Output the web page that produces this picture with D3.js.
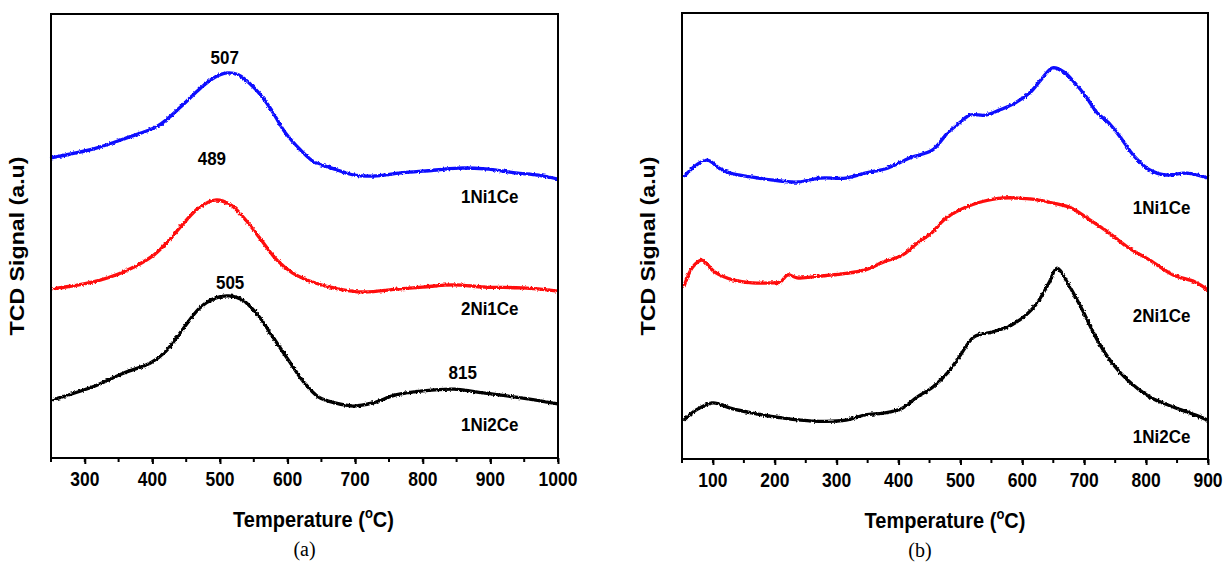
<!DOCTYPE html>
<html>
<head>
<meta charset="utf-8">
<script src="https://cdn.jsdelivr.net/npm/d3@7"></script>
<style>
  body { margin: 0; background: #fff; }
  text { font-family: "Liberation Sans", Arial, sans-serif; font-weight: bold; }
</style>
</head>
<body>
<div id="app"></div>
<script>
// panel (a): temperature (C) and TCD signal (a.u.)
const tempA1Ni1Ce = [250,317,362,408,442,471,493,508,527,551,573,596,619,639,665,699,727,767,801,853,893,937,971,1000]
const sigA1Ni1Ce  = [67.6,69.8,72.1,74.8,79.1,83.3,85.8,86.7,86.3,83.3,79.1,73.4,69.4,66.7,65.3,63.7,63.5,64.2,64.6,65.3,65.1,64.2,63.7,62.8]

const tempA2Ni1Ce = [252,311,357,402,425,448,470,493,516,538,561,584,607,641,675,710,766,800,846,892,948,1000]
const sigA2Ni1Ce  = [38.1,39.6,41.9,45.7,49.1,53.2,56.5,58.1,57.0,53.6,49.1,44.6,41.7,39.4,38.1,37.4,38.1,38.5,39.0,38.5,38.3,37.6]

const tempA1Ni2Ce = [252,311,357,397,419,442,470,493,513,533,556,578,601,624,646,670,698,726,760,800,846,892,948,1000]
const sigA1Ni2Ce  = [13.1,16.0,19.1,21.4,23.9,28.4,33.8,36.0,36.5,35.6,32.2,27.3,22.1,17.1,13.7,12.4,11.7,12.4,14.2,15.1,15.5,14.6,13.5,12.2]

// panel (b)
const tempB1Ni1Ce = [53,73,91,110,128,164,194,236,273,315,346,382,418,455,479,498,515,540,564,588,612,630,649,667,685,703,721,740,758,782,806,830,866,900]
const sigB1Ni1Ce  = [63.3,65.9,67.0,65.2,64.1,63.2,62.6,62.1,63.0,63.0,64.1,65.2,67.5,69.3,73.1,75.3,77.1,77.1,78.3,79.8,82.1,85.0,87.7,86.8,84.3,81.2,77.6,75.3,72.2,67.7,64.8,63.7,64.1,63.0]

const tempB2Ni1Ce = [53,67,82,103,134,164,194,209,221,236,273,309,346,376,406,430,455,473,498,527,564,612,649,679,709,740,770,806,843,879,900]
const sigB2Ni1Ce  = [38.6,43.0,44.6,41.9,40.1,39.5,39.5,39.7,41.3,40.6,41.0,41.5,42.4,44.2,45.7,48.4,50.9,53.6,55.8,57.4,58.5,58.3,57.4,56.3,53.6,50.7,47.5,44.6,41.3,39.7,37.9]

const tempB1Ni2Ce = [53,73,100,128,164,212,261,315,346,376,406,430,455,479,498,522,552,582,606,624,643,656,673,697,721,745,770,806,843,879,900]
const sigB1Ni2Ce  = [8.7,11.0,12.6,11.4,10.3,9.2,8.5,8.7,9.9,10.3,11.4,13.9,16.1,19.3,22.9,27.4,28.5,30.0,32.3,35.0,39.5,42.8,39.5,33.4,26.7,21.5,17.7,13.9,11.7,9.9,8.7]

const xTicksA = [300,400,500,600,700,800,900,1000]
const xTicksB = [100,200,300,400,500,600,700,800,900]

// labels: [text, temperature, signal]
const peakLabelsA = [["507",507,90.1],["489",488,67.3],["505",515,39.4],["815",859,19.1]]
const nameLabelsA = [["1Ni1Ce",899,58.8],["2Ni1Ce",899,33.6],["1Ni2Ce",899,7.4]]
const nameLabelsB = [["1Ni1Ce",825,56.3],["2Ni1Ce",825,32.1],["1Ni2Ce",825,4.9]]

const colors = ["#0a0aff", "#ff0a0a", "#000000"]
const stretch = 1.12 // text in the figure is a bit taller than wide

const svg = d3.select('#app')
  .append('svg')
  .attr('width', 1225)
  .attr('height', 563)

svg.append('defs')
  .append('filter')
  .attr('id', 'rough')
  .attr('x', '-2%').attr('y', '-10%').attr('width', '104%').attr('height', '120%')
  .call(f => {
    f.append('feTurbulence').attr('type', 'fractalNoise').attr('baseFrequency', 0.45).attr('numOctaves', 2).attr('seed', 3).attr('result', 'n')
    f.append('feDisplacementMap').attr('in', 'SourceGraphic').attr('in2', 'n').attr('scale', 3)
      .attr('xChannelSelector', 'R').attr('yChannelSelector', 'G')
  })

// text placed at (x, y) and stretched vertically
function label(g, x, y, size, txt) {
  return g.append('text')
    .attr('transform', 'translate(' + x + ',' + y + ') scale(1,' + stretch + ')')
    .attr('text-anchor', 'middle')
    .attr('font-size', size)
    .text(txt)
}

function drawPanel(opt) {
  const x = d3.scaleLinear().domain(opt.xDomain).range([opt.left, opt.right])
  const y = d3.scaleLinear().domain([0, 100]).range([opt.bottom, opt.top])

  const g = svg.append('g')

  const line = d3.line()
    .x(d => x(d[0]))
    .y(d => y(d[1]))
    .curve(d3.curveCatmullRom.alpha(0.5))

  opt.series.forEach((s, i) => {
    g.append('path')
      .datum(d3.zip(s[0], s[1]))
      .attr('d', line)
      .attr('fill', 'none')
      .attr('stroke', colors[i])
      .attr('stroke-width', 3.3)
      .attr('filter', 'url(#rough)')
  })

  // frame
  g.append('rect')
    .attr('x', opt.left).attr('y', opt.top)
    .attr('width', opt.right - opt.left).attr('height', opt.bottom - opt.top)
    .attr('fill', 'none').attr('stroke', '#000').attr('stroke-width', 2)

  // minor ticks
  const minor = d3.range(opt.xDomain[0], opt.xDomain[1] + 1, 50)
  g.selectAll('.minor')
    .data(minor)
    .enter()
    .append('line')
    .attr('x1', d => x(d)).attr('x2', d => x(d))
    .attr('y1', opt.bottom).attr('y2', opt.bottom + 4)
    .attr('stroke', '#000').attr('stroke-width', 2)

  const axis = d3.axisBottom(x).tickValues(opt.ticks).tickSize(6).tickFormat(d3.format('d'))
  const ax = g.append('g')
    .attr('transform', 'translate(0,' + opt.bottom + ')')
    .call(axis)
  ax.select('.domain').remove()
  ax.selectAll('line').attr('stroke-width', 2)
  ax.selectAll('text').remove()
  opt.ticks.forEach(t => label(g, x(t), opt.bottom + 28, 17.5, t))

  const cx = (opt.left + opt.right) / 2
  const title = label(g, cx + opt.titleShift, opt.bottom + 69, 20, '')
  title.append('tspan').text('Temperature (')
  title.append('tspan').text('o').attr('font-size', 13).attr('dy', -8)
  title.append('tspan').text('C)').attr('dy', 8)

  g.append('text')
    .attr('transform', 'translate(' + (opt.left - 27) + ',' + ((opt.top + opt.bottom) / 2 + 10) + ') rotate(-90) scale(1.16,1)')
    .attr('text-anchor', 'middle')
    .attr('font-size', 20)
    .text('TCD Signal (a.u)')

  g.append('text')
    .attr('x', cx + opt.captionShift).attr('y', opt.bottom + 98)
    .attr('text-anchor', 'middle')
    .style('font-family', '"Liberation Serif", "Times New Roman", serif')
    .style('font-weight', 'normal')
    .attr('font-size', 20)
    .text(opt.caption)

  opt.labels.forEach(d => {
    label(g, x(d[1]), y(d[2]) + 6, 17, d[0])
  })
}

drawPanel({
  xDomain: [250, 1000], left: 51, right: 558, top: 14, bottom: 458,
  ticks: xTicksA, caption: '(a)', titleShift: 9, captionShift: 0,
  series: [[tempA1Ni1Ce, sigA1Ni1Ce], [tempA2Ni1Ce, sigA2Ni1Ce], [tempA1Ni2Ce, sigA1Ni2Ce]],
  labels: peakLabelsA.concat(nameLabelsA)
})

drawPanel({
  xDomain: [50, 900], left: 682, right: 1208, top: 13, bottom: 459,
  ticks: xTicksB, caption: '(b)', titleShift: 0, captionShift: -25,
  series: [[tempB1Ni1Ce, sigB1Ni1Ce], [tempB2Ni1Ce, sigB2Ni1Ce], [tempB1Ni2Ce, sigB1Ni2Ce]],
  labels: nameLabelsB
})
</script>
</body>
</html>
